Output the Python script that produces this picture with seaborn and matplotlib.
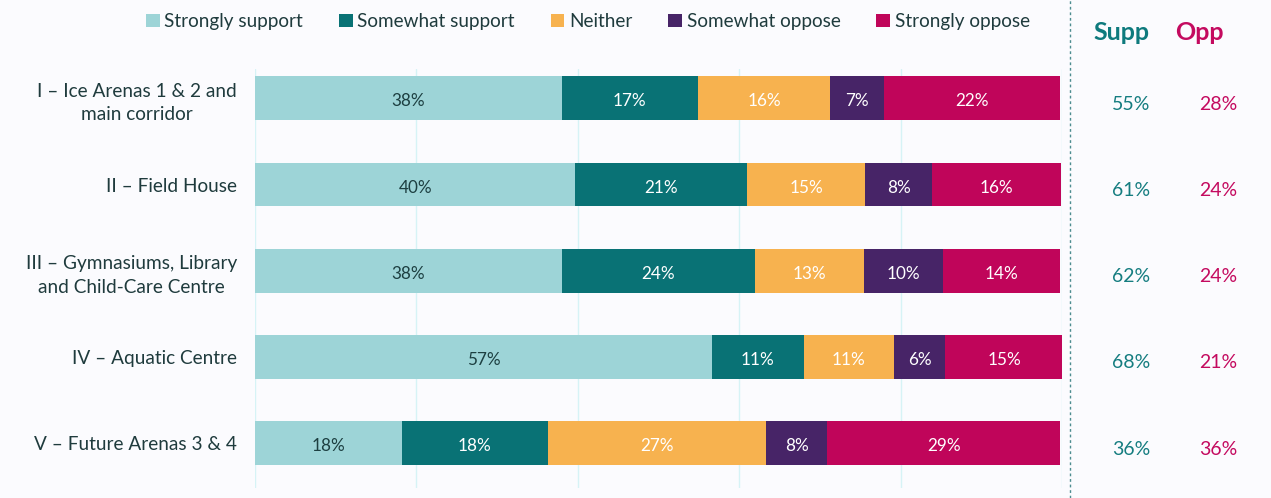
import pandas as pd
import matplotlib.pyplot as plt
import matplotlib.transforms as mtransforms
from matplotlib.lines import Line2D
from matplotlib.patches import Patch
import seaborn as sns

# Data (percent of respondents)
categories = [
    'I – Ice Arenas 1 & 2 and\nmain corridor',
    'II – Field House',
    'III – Gymnasiums, Library\nand Child-Care Centre',
    'IV – Aquatic Centre',
    'V – Future Arenas 3 & 4',
]
answers = ['Strongly support', 'Somewhat support', 'Neither', 'Somewhat oppose', 'Strongly oppose']
strongly_support = [38.0, 39.7, 38.0, 56.6, 18.2]
somewhat_support = [16.9, 21.3, 24.0, 11.4, 18.1]
neither = [16.4, 14.6, 13.4, 11.2, 27.0]
somewhat_oppose = [6.6, 8.3, 9.9, 6.3, 7.6]
strongly_oppose = [21.9, 16.0, 14.4, 14.7, 28.9]
supp = [55, 61, 62, 68, 36]
opp = [28, 24, 24, 21, 36]

colors = ['#9dd4d7', '#097275', '#f7b24f', '#472467', '#c0055a']
text_colors = ['#1d3f41', 'white', 'white', 'white', 'white']
bg = '#fbfbfe'

df = pd.DataFrame({'cat': categories})
for name, vals in zip(answers, [strongly_support, somewhat_support, neither, somewhat_oppose, strongly_oppose]):
    df[name] = vals
cum = df[answers].cumsum(axis=1)

sns.set_style('white')
plt.rcParams['font.family'] = ['Lato', 'DejaVu Sans']

fig = plt.figure(figsize=(12.71, 4.98), dpi=100, facecolor=bg)
ax = fig.add_axes([0.2006, 0.0201, 0.635, 0.8414])
ax.set_facecolor(bg)

# stacked bars: draw cumulative totals from the last segment back to the first
for i in range(len(answers) - 1, -1, -1):
    sns.barplot(x=cum[answers[i]], y=df['cat'], color=colors[i], width=0.51,
                orient='h', ax=ax, saturation=1, zorder=3, linewidth=0)

# segment labels
for i, name in enumerate(answers):
    for j in range(len(df)):
        v = df[name][j]
        center = cum[name][j] - v / 2
        ax.text(center, j + 0.035, f'{round(v)}%', ha='center', va='center',
                fontsize=12.3, color=text_colors[i], zorder=4)

ax.set_xlim(0, 100)
ax.set_ylim(4.52, -0.34)
ax.set_xticks([0, 20, 40, 60, 80, 100])
ax.xaxis.grid(True, color='#d6f3f6', lw=1, zorder=0)
ax.set_axisbelow(True)
ax.tick_params(axis='x', labelbottom=False, length=0)
ax.tick_params(axis='y', length=0, pad=13, labelsize=13.7, labelcolor='#1f3b3d')
for lab in ax.get_yticklabels():
    lab.set_multialignment('center')
    lab.set_linespacing(1.45)
ax.set_xlabel('')
ax.set_ylabel('')
sns.despine(ax=ax, left=True, bottom=True)

# legend
handles = [Patch(facecolor=c, edgecolor='none') for c in colors]
fig.legend(handles, answers, loc='center', bbox_to_anchor=(0.4625, 0.957), ncol=5,
           frameon=False, fontsize=13.6, handlelength=0.72, handleheight=0.72,
           handletextpad=0.25, columnspacing=1.9, labelcolor='#1f3b3d')

# divider and summary columns
fig.add_artist(Line2D([1070 / 1271] * 2, [0, 1], color='#4d8d90', lw=1,
                      linestyle=(0, (2, 2))))
fig.text(1121 / 1271, 1 - 32 / 498, 'Supp', ha='center', va='center',
         fontsize=18, fontweight='bold', color='#0e7a7d')
fig.text(1199 / 1271, 1 - 32 / 498, 'Opp', ha='center', va='center',
         fontsize=18, fontweight='bold', color='#c40a5f')
trans = mtransforms.blended_transform_factory(fig.transFigure, ax.transData)
for j in range(len(categories)):
    ax.text(1131 / 1271, j + 0.07, f'{supp[j]}%', transform=trans, ha='center',
            va='center', fontsize=14, color='#157d80')
    ax.text(1218 / 1271, j + 0.07, f'{opp[j]}%', transform=trans, ha='center',
            va='center', fontsize=14, color='#c40a5f')

fig.savefig('out.png', dpi=100, facecolor=bg)
